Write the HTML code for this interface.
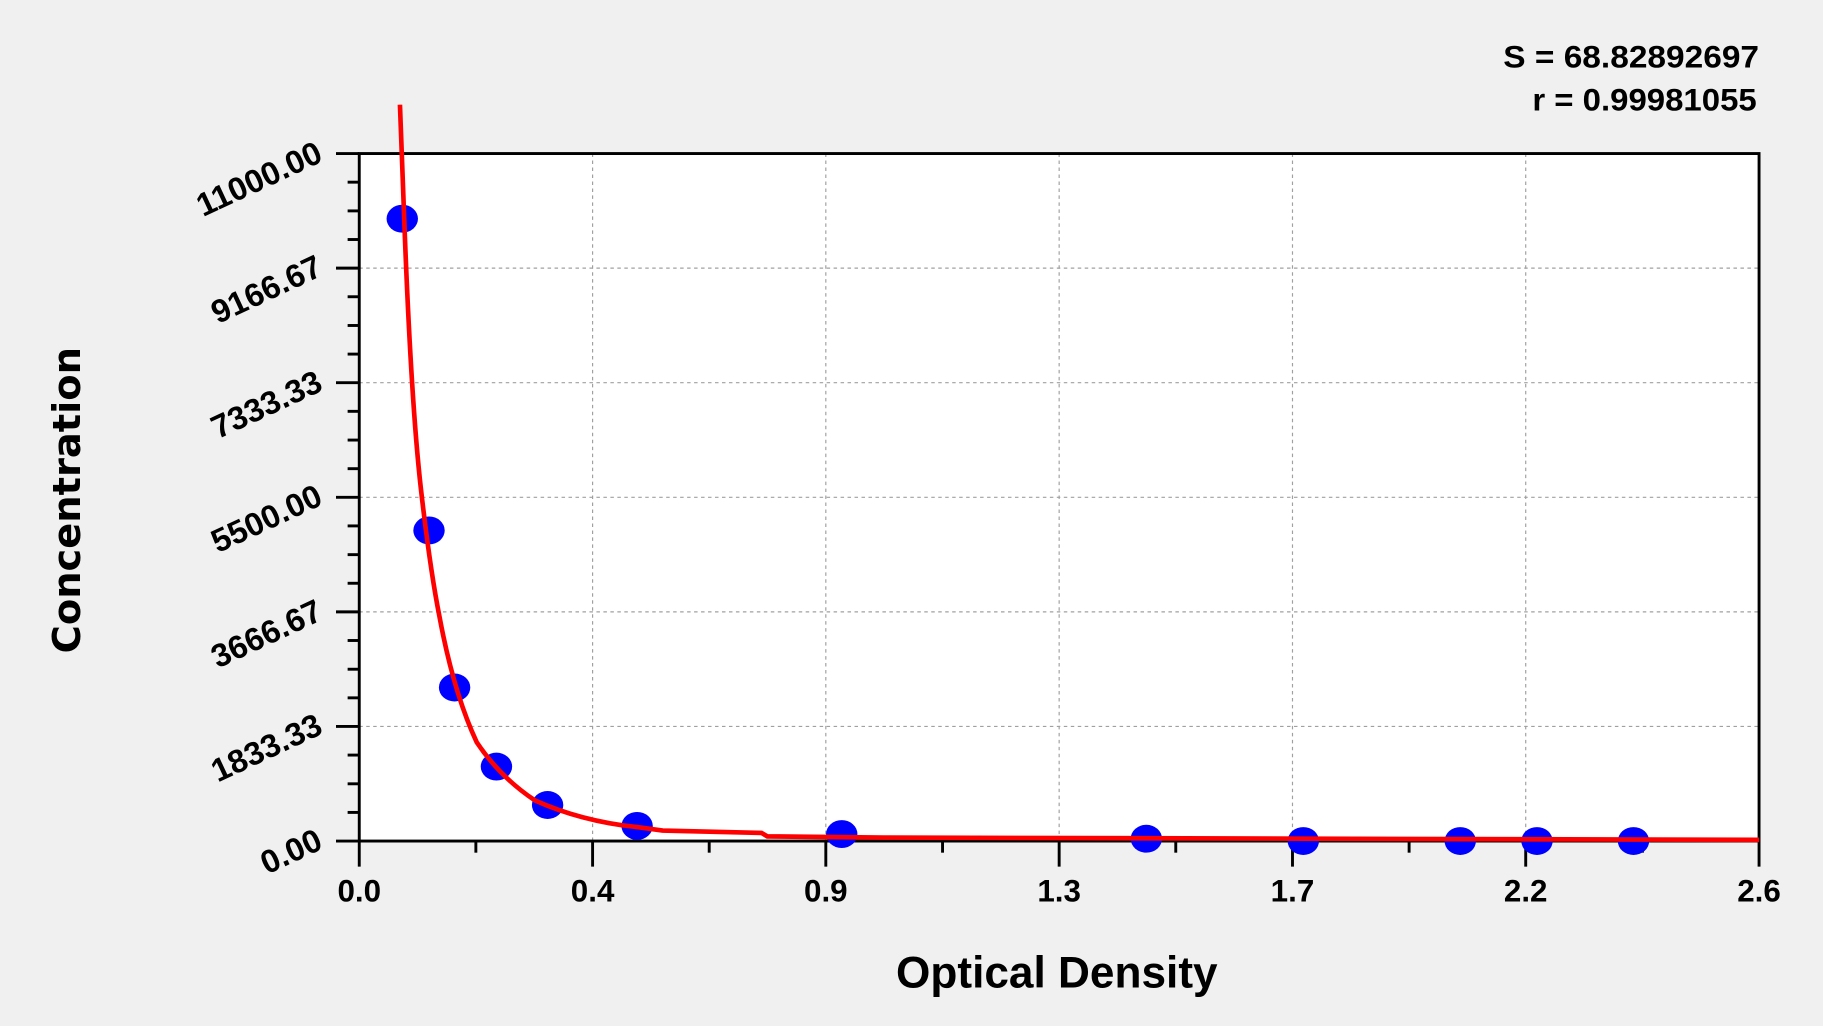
<!DOCTYPE html>
<html><head><meta charset="utf-8"><style>html,body{margin:0;padding:0;background:#f0f0f0;}svg{display:block}</style></head>
<body>
<svg width="1823" height="1026" viewBox="0 0 1568 882" preserveAspectRatio="none" xmlns="http://www.w3.org/2000/svg">
<rect width="1568" height="882" fill="#f0f0f0"/>
<rect x="309" y="132" width="1204" height="591" fill="#fff"/>
<g stroke="#a0a0a0" stroke-width="1" stroke-dasharray="3,3">
<line x1="509.7" y1="132" x2="509.7" y2="723"/><line x1="710.3" y1="132" x2="710.3" y2="723"/>
<line x1="911" y1="132" x2="911" y2="723"/><line x1="1111.7" y1="132" x2="1111.7" y2="723"/>
<line x1="1312.3" y1="132" x2="1312.3" y2="723"/>
<line x1="309" y1="230.5" x2="1513" y2="230.5"/><line x1="309" y1="329" x2="1513" y2="329"/>
<line x1="309" y1="427.5" x2="1513" y2="427.5"/><line x1="309" y1="526" x2="1513" y2="526"/>
<line x1="309" y1="624.5" x2="1513" y2="624.5"/>
</g>
<rect x="309" y="132" width="1204" height="591" stroke="#000" stroke-width="2.5" fill="none"/>
<g stroke="#000" stroke-width="2.5">
<line x1="309" y1="723" x2="309" y2="745"/><line x1="409.3" y1="723" x2="409.3" y2="733"/>
<line x1="509.7" y1="723" x2="509.7" y2="745"/><line x1="610" y1="723" x2="610" y2="733"/>
<line x1="710.3" y1="723" x2="710.3" y2="745"/><line x1="810.7" y1="723" x2="810.7" y2="733"/>
<line x1="911" y1="723" x2="911" y2="745"/><line x1="1011.3" y1="723" x2="1011.3" y2="733"/>
<line x1="1111.7" y1="723" x2="1111.7" y2="745"/><line x1="1212" y1="723" x2="1212" y2="733"/>
<line x1="1312.3" y1="723" x2="1312.3" y2="745"/><line x1="1412.7" y1="723" x2="1412.7" y2="733"/>
<line x1="1513" y1="723" x2="1513" y2="745"/>
<line x1="289" y1="723" x2="309" y2="723"/><line x1="299" y1="698.4" x2="309" y2="698.4"/>
<line x1="299" y1="673.8" x2="309" y2="673.8"/><line x1="299" y1="649.1" x2="309" y2="649.1"/>
<line x1="289" y1="624.5" x2="309" y2="624.5"/><line x1="299" y1="599.9" x2="309" y2="599.9"/>
<line x1="299" y1="575.3" x2="309" y2="575.3"/><line x1="299" y1="550.6" x2="309" y2="550.6"/>
<line x1="289" y1="526" x2="309" y2="526"/><line x1="299" y1="501.4" x2="309" y2="501.4"/>
<line x1="299" y1="476.8" x2="309" y2="476.8"/><line x1="299" y1="452.1" x2="309" y2="452.1"/>
<line x1="289" y1="427.5" x2="309" y2="427.5"/><line x1="299" y1="402.9" x2="309" y2="402.9"/>
<line x1="299" y1="378.3" x2="309" y2="378.3"/><line x1="299" y1="353.6" x2="309" y2="353.6"/>
<line x1="289" y1="329" x2="309" y2="329"/><line x1="299" y1="304.4" x2="309" y2="304.4"/>
<line x1="299" y1="279.8" x2="309" y2="279.8"/><line x1="299" y1="255.1" x2="309" y2="255.1"/>
<line x1="289" y1="230.5" x2="309" y2="230.5"/><line x1="299" y1="205.9" x2="309" y2="205.9"/>
<line x1="299" y1="181.3" x2="309" y2="181.3"/><line x1="299" y1="156.6" x2="309" y2="156.6"/>
<line x1="289" y1="132" x2="309" y2="132"/>
</g>
<g fill="#0000ff">
<ellipse cx="346" cy="188" rx="13.5" ry="12"/><ellipse cx="369" cy="456" rx="13.5" ry="12"/>
<ellipse cx="391" cy="591" rx="13.5" ry="12"/><ellipse cx="427" cy="659" rx="13.5" ry="12"/>
<ellipse cx="471" cy="692" rx="13.5" ry="12"/><ellipse cx="548" cy="710" rx="13.5" ry="12"/>
<ellipse cx="724" cy="717" rx="13.5" ry="12"/><ellipse cx="986" cy="721" rx="13.5" ry="12"/>
<ellipse cx="1121" cy="723" rx="13.5" ry="12"/><ellipse cx="1256" cy="723" rx="13.5" ry="12"/>
<ellipse cx="1322" cy="723" rx="13.5" ry="12"/><ellipse cx="1405" cy="723" rx="13.5" ry="12"/>
</g>
<path fill="none" stroke="#ff0000" stroke-width="4" d="M344,90 L347,170 Q353,340 362,420 Q370,490 378,530 Q390,595 410,638 Q430,668 460,688 Q500,706 548,711 L570,714 L655,716 L660,719 L760,720 L1513,722"/>
<g font-family="Liberation Sans, sans-serif" font-weight="bold" font-size="27" fill="#000" text-anchor="middle">
<text x="309" y="775">0.0</text><text x="509.7" y="775">0.4</text><text x="710.3" y="775">0.9</text>
<text x="911" y="775">1.3</text><text x="1111.7" y="775">1.7</text><text x="1312.3" y="775">2.2</text><text x="1513" y="775">2.6</text>
</g>
<g font-family="Liberation Sans, sans-serif" font-weight="bold" font-size="28" fill="#000" text-anchor="end">
<text transform="translate(279,138) rotate(-25)">11000.00</text>
<text transform="translate(279,236) rotate(-25)">9166.67</text>
<text transform="translate(279,335) rotate(-25)">7333.33</text>
<text transform="translate(279,433) rotate(-25)">5500.00</text>
<text transform="translate(279,532) rotate(-25)">3666.67</text>
<text transform="translate(279,630) rotate(-25)">1833.33</text>
<text transform="translate(279,729) rotate(-25)">0.00</text>
</g>
<g font-family="Liberation Sans, sans-serif" font-weight="bold" font-size="27" fill="#000">
<text x="1293" y="58" textLength="220" lengthAdjust="spacingAndGlyphs">S = 68.82892697</text>
<text x="1318" y="95" textLength="193" lengthAdjust="spacingAndGlyphs">r = 0.99981055</text>
</g>
<text x="909" y="849" text-anchor="middle" font-family="Liberation Sans, sans-serif" font-weight="bold" font-size="38">Optical Density</text>
<text transform="translate(69,430) rotate(-90)" text-anchor="middle" font-family="DejaVu Sans, sans-serif" font-weight="bold" font-size="33">Concentration</text>
</svg>
</body></html>
